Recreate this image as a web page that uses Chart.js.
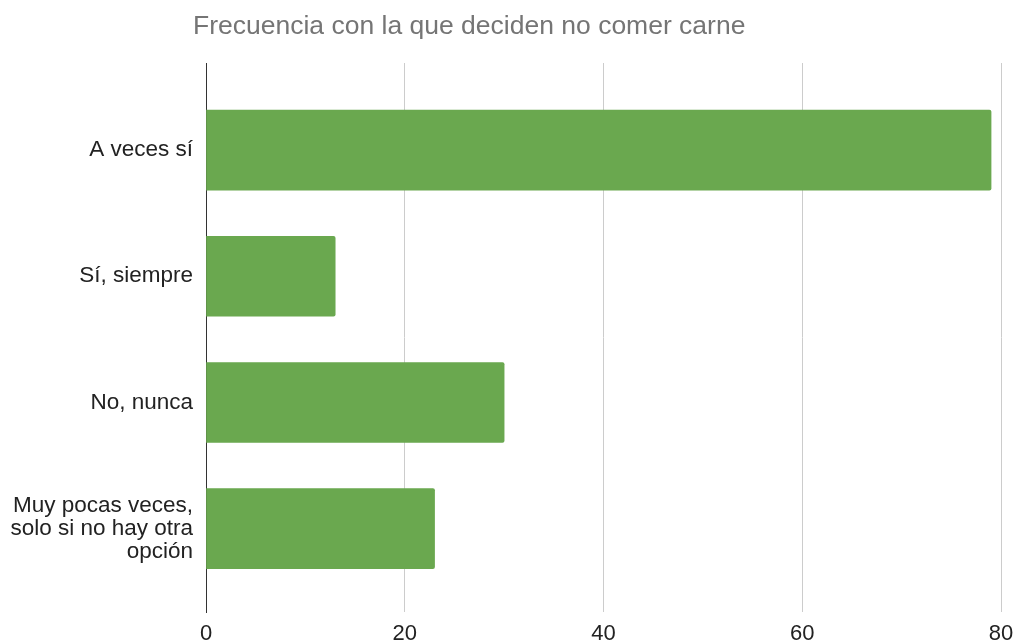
<!DOCTYPE html>
<html>
<head>
<meta charset="utf-8">
<script src="https://cdn.jsdelivr.net/npm/chart.js@4.4.0/dist/chart.umd.min.js"></script>
<style>
  body { margin: 0; background: #fff; }
</style>
</head>
<body>
<canvas id="chart" width="1017" height="642"></canvas>
<script>
'use strict';

let canvasElem = document.getElementById('chart');

let chartTitle = 'Frecuencia con la que deciden no comer carne';
let categories = [
  'A veces sí',
  'Sí, siempre',
  'No, nunca',
  ['Muy pocas veces,', 'solo si no hay otra', 'opción']
];
let answers = [79, 13, 30, 23];
let xTicks = [0, 20, 40, 60, 80];

let fontFamily = '"Liberation Sans", Arial, sans-serif';

// title sits a bit left of the plot, so it is drawn by hand
let leftTitle = {
  id: 'leftTitle',
  afterDraw(chart) {
    let ctx = chart.ctx;
    ctx.save();
    ctx.font = '26.5px ' + fontFamily;
    ctx.fillStyle = '#757575';
    ctx.textAlign = 'left';
    ctx.textBaseline = 'middle';
    ctx.fillText(chartTitle, chart.chartArea.left - 13, 27);
    ctx.restore();
  }
};

function renderChart() {
  let points = [];
  for (let i = 0; i < answers.length; i++) {
    points.push({ x: answers[i], y: i });
  }

  let chartObj = {
    type: 'bar',
    data: {
      datasets: [{
        label: 'Respuestas',
        data: points,
        backgroundColor: '#6aa84f',
        barThickness: 80,
        borderRadius: 2,
        borderSkipped: 'start'
      }]
    },
    options: {
      indexAxis: 'y',
      responsive: false,
      animation: false,
      layout: { padding: { top: 63, right: 0, left: 0, bottom: 0 } },
      plugins: {
        legend: { display: false },
        tooltip: { enabled: false }
      },
      scales: {
        x: {
          type: 'linear',
          min: xTicks[0],
          max: xTicks[xTicks.length - 1],
          afterBuildTicks(scale) {
            scale.ticks = xTicks.map(v => ({ value: v }));
          },
          afterFit(scale) {
            scale.height = 30;
            scale.paddingLeft = 0;
            scale.paddingRight = 16;
          },
          ticks: {
            color: '#222',
            padding: 9,
            font: { family: fontFamily, size: 22 }
          },
          grid: { color: '#cccccc', lineWidth: 1, drawTicks: false },
          border: { display: false }
        },
        y: {
          type: 'linear',
          reverse: true,
          offset: false,
          min: -0.69,
          max: 3.66,
          afterBuildTicks(scale) {
            scale.ticks = categories.map((c, i) => ({ value: i }));
          },
          afterFit(scale) {
            scale.width = 206;
          },
          ticks: {
            color: '#222',
            padding: 13,
            font: { family: fontFamily, size: 22.5, lineHeight: 1.02 },
            callback: (v) => categories[v]
          },
          grid: { display: false, drawTicks: false },
          border: { display: true, color: '#333333', width: 1 }
        }
      }
    },
    plugins: [leftTitle]
  };
  new Chart(canvasElem, chartObj);
}

renderChart();
</script>
</body>
</html>
